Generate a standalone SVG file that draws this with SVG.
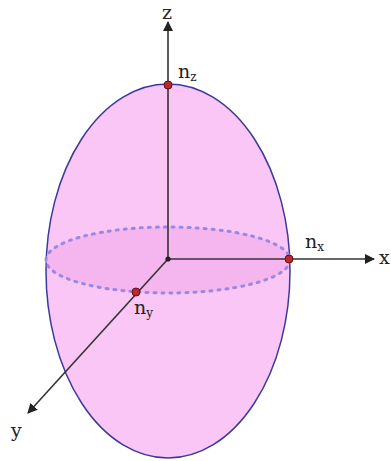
<svg xmlns="http://www.w3.org/2000/svg" width="391" height="461" viewBox="0 0 391 461">
<style>
.axis{stroke:#333;stroke-width:1.6;fill:none}
.pt{fill:#c0262d;stroke:#5a1010;stroke-width:1}
.lbl{font-family:"DejaVu Serif","Liberation Serif",serif;font-size:19px;fill:#222}
.sub{font-size:12px}
</style>
<defs>
<marker id="arr" viewBox="0 0 10 10" refX="9" refY="5" markerWidth="10" markerHeight="10" markerUnits="userSpaceOnUse" orient="auto">
<path d="M0,0 L10,5 L0,10 Z" fill="#222"/>
</marker>
</defs>
<rect width="391" height="461" fill="#fff"/>
<g id="ellipsoid">
<ellipse cx="168" cy="271" rx="122" ry="187" fill="#f9c6f5" stroke="#3a3a9a" stroke-width="1.5"/>
<ellipse cx="168" cy="260" rx="122" ry="33" fill="#f5b6ef" stroke="#9a88e4" stroke-width="3" stroke-dasharray="2 6" stroke-linecap="round"/>
</g>
<g id="connectors">
<line class="axis" x1="168" y1="259" x2="168" y2="22" marker-end="url(#arr)"/>
<line class="axis" x1="168" y1="259" x2="374" y2="259" marker-end="url(#arr)"/>
<line class="axis" x1="168" y1="259" x2="28" y2="413" marker-end="url(#arr)"/>
</g>
<g id="origin"><circle cx="168" cy="259" r="2.6" fill="#222"/></g>
<g id="nz">
<circle class="pt" cx="168" cy="85" r="4"/>
<text class="lbl" x="178" y="78">n<tspan class="sub" dy="3">z</tspan></text>
</g>
<g id="nx">
<circle class="pt" cx="289" cy="259" r="4"/>
<text class="lbl" x="305" y="248">n<tspan class="sub" dy="3">x</tspan></text>
</g>
<g id="ny">
<circle class="pt" cx="136" cy="292" r="4"/>
<text class="lbl" x="134" y="314">n<tspan class="sub" dy="3">y</tspan></text>
</g>
<g id="z-label"><text class="lbl" x="162" y="19">z</text></g>
<g id="x-label"><text class="lbl" x="379" y="264">x</text></g>
<g id="y-label"><text class="lbl" x="11" y="437">y</text></g>
</svg>
